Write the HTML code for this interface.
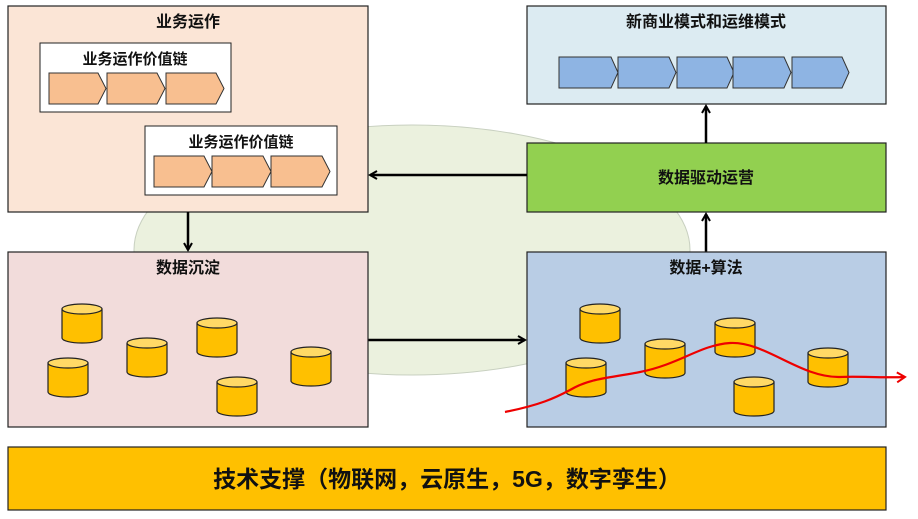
<!DOCTYPE html>
<html><head><meta charset="utf-8"><style>
html,body{margin:0;padding:0;background:#fff;}
svg{display:block;}
text{font-family:"Liberation Sans","Noto Sans CJK SC",sans-serif;font-weight:bold;fill:#111;}
</style></head><body>
<svg width="918" height="519" viewBox="0 0 918 519" xmlns="http://www.w3.org/2000/svg">
<defs>
<marker id="ah" markerWidth="10" markerHeight="10" refX="8" refY="5" orient="auto" markerUnits="userSpaceOnUse">
<path d="M1,1 L8,5 L1,9" fill="none" stroke="#000" stroke-width="2"/></marker>
<marker id="rh" markerWidth="12" markerHeight="12" refX="10" refY="6" orient="auto" markerUnits="userSpaceOnUse">
<path d="M2,1 L10,6 L2,11" fill="none" stroke="#e00" stroke-width="2"/></marker>
<g id="cyl">
<path d="M0,5 V34 A20,5 0 0 0 40,34 V5" fill="#ffc000" stroke="#222" stroke-width="1.2"/>
<ellipse cx="20" cy="5" rx="20" ry="5" fill="#ffd966" stroke="#222" stroke-width="1.2"/>
</g>
</defs>
<ellipse cx="412" cy="250" rx="278" ry="125" fill="#ebf1de" stroke="#c8d0c0" stroke-width="1"/>

<!-- 业务运作 -->
<rect x="8" y="6" width="360" height="206" fill="#fbe5d6" stroke="#222" stroke-width="1.2"/>
<text x="188" y="27" font-size="16" text-anchor="middle">业务运作</text>
<rect x="40" y="43" width="191" height="69" fill="#fff" stroke="#222" stroke-width="1"/>
<text x="135" y="64" font-size="15" text-anchor="middle">业务运作价值链</text>
<g fill="#f8bf90" stroke="#333" stroke-width="1">
<path d="M49,73 h49 l8,15.5 l-8,15.5 h-49 z"/>
<path d="M107,73 h50 l8,15.5 l-8,15.5 h-50 z"/>
<path d="M166,73 h50 l8,15.5 l-8,15.5 h-50 z"/>
</g>
<rect x="145" y="126" width="192" height="69" fill="#fff" stroke="#222" stroke-width="1"/>
<text x="241" y="147" font-size="15" text-anchor="middle">业务运作价值链</text>
<g fill="#f8bf90" stroke="#333" stroke-width="1">
<path d="M154,156 h50 l8,15.5 l-8,15.5 h-50 z"/>
<path d="M212,156 h51 l8,15.5 l-8,15.5 h-51 z"/>
<path d="M271,156 h51 l8,15.5 l-8,15.5 h-51 z"/>
</g>

<!-- 新商业模式 -->
<rect x="527" y="6" width="359" height="98" fill="#dcebf2" stroke="#222" stroke-width="1.2"/>
<text x="706" y="27" font-size="16" text-anchor="middle">新商业模式和运维模式</text>
<g fill="#8eb4e3" stroke="#333" stroke-width="1">
<path d="M559,57 h52 l7,15.5 l-7,15.5 h-52 z"/>
<path d="M618,57 h51 l7,15.5 l-7,15.5 h-51 z"/>
<path d="M677,57 h50 l7,15.5 l-7,15.5 h-50 z"/>
<path d="M733,57 h51 l7,15.5 l-7,15.5 h-51 z"/>
<path d="M792,57 h50 l7,15.5 l-7,15.5 h-50 z"/>
</g>

<!-- green -->
<rect x="527" y="143" width="359" height="69" fill="#92d050" stroke="#222" stroke-width="1.2"/>
<text x="706" y="183" font-size="16" text-anchor="middle">数据驱动运营</text>

<!-- arrows -->
<line x1="706" y1="143" x2="706" y2="106" stroke="#000" stroke-width="2.5" marker-end="url(#ah)"/>
<line x1="706" y1="252" x2="706" y2="214" stroke="#000" stroke-width="2.5" marker-end="url(#ah)"/>
<line x1="527" y1="175" x2="370" y2="175" stroke="#000" stroke-width="2.5" marker-end="url(#ah)"/>
<line x1="188" y1="212" x2="188" y2="250" stroke="#000" stroke-width="2.5" marker-end="url(#ah)"/>
<line x1="368" y1="340" x2="525" y2="340" stroke="#000" stroke-width="2.5" marker-end="url(#ah)"/>

<!-- 数据沉淀 -->
<rect x="8" y="252" width="360" height="175" fill="#f2dcdb" stroke="#222" stroke-width="1.2"/>
<text x="188" y="273" font-size="16" text-anchor="middle">数据沉淀</text>
<use href="#cyl" x="62" y="304"/>
<use href="#cyl" x="48" y="358"/>
<use href="#cyl" x="127" y="338"/>
<use href="#cyl" x="197" y="318"/>
<use href="#cyl" x="217" y="377"/>
<use href="#cyl" x="291" y="347"/>

<!-- 数据+算法 -->
<rect x="527" y="252" width="359" height="175" fill="#b9cde5" stroke="#222" stroke-width="1.2"/>
<text x="706" y="273" font-size="16" text-anchor="middle">数据+算法</text>
<use href="#cyl" x="580" y="304"/>
<use href="#cyl" x="566" y="358"/>
<use href="#cyl" x="645" y="339"/>
<use href="#cyl" x="715" y="318"/>
<use href="#cyl" x="734" y="377"/>
<use href="#cyl" x="808" y="348"/>
<path d="M505,412 C540,405 555,398 570,390 C590,378 610,378 640,372 C680,364 700,345 730,343 C765,341 800,378 840,377 C860,376 880,378 905,377" fill="none" stroke="#e00" stroke-width="2.2" marker-end="url(#rh)"/>

<!-- bottom -->
<rect x="8" y="447" width="878" height="63" fill="#ffc000" stroke="#222" stroke-width="1.2"/>
<text x="447" y="487" font-size="23" text-anchor="middle">技术支撑（物联网，云原生，5G，数字孪生）</text>
</svg>
</body></html>
